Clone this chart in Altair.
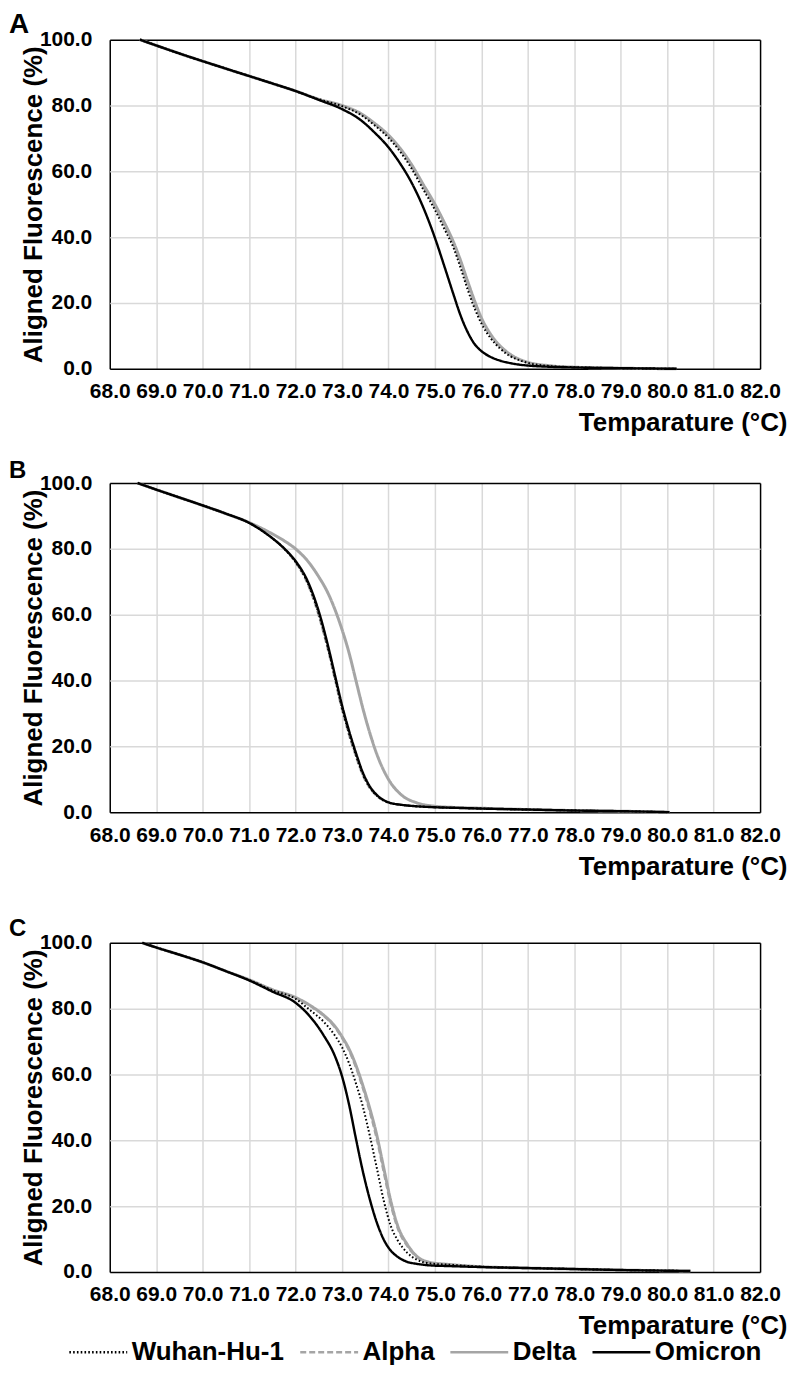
import altair as alt
import pandas as pd

FONT = "Liberation Sans"

VARIANTS = ["Wuhan-Hu-1", "Alpha", "Delta", "Omicron"]
DRAW_ORDER = ["Delta", "Alpha", "Wuhan-Hu-1", "Omicron"]
LINE_COLORS = ["#000000", "#a5a5a5", "#a5a5a5", "#000000"]
LINE_DASHES = [[1.6, 2.2], [6, 3], [1, 0], [1, 0]]
LINE_WIDTHS = {"Wuhan-Hu-1": 2.0, "Alpha": 2.0, "Delta": 3.0, "Omicron": 2.4}

X_TICKS = list(range(68, 83))
Y_TICKS = [0, 20, 40, 60, 80, 100]

# ---------------- Panel A ----------------
temp_a = [68.65, 69.5, 70.5, 71.5, 72.0, 72.5, 73.0, 73.4, 73.7, 74.0, 74.25, 74.5,
          74.75, 75.0, 75.2, 75.4, 75.55, 75.7, 75.85, 76.0, 76.2, 76.4, 76.6, 76.8,
          77.0, 77.5, 78.0, 79.0, 80.2]
wuhan_a = [100, 95.8, 91.2, 86.7, 84.4, 81.9, 79.8, 77.2, 74.0, 70.2, 66.0, 60.8,
           54.5, 48.3, 42.6, 36.8, 30.8, 24.3, 18.5, 13.8, 9.3, 6.2, 4.0, 2.7,
           1.8, 0.8, 0.5, 0.2, 0.0]
alpha_a = [100, 95.8, 91.2, 86.7, 84.4, 81.9, 79.9, 77.4, 74.3, 70.6, 66.5, 61.4,
           55.2, 49.1, 43.5, 37.6, 31.8, 25.4, 19.5, 14.6, 9.9, 6.6, 4.3, 2.8,
           1.9, 0.8, 0.5, 0.2, 0.0]
delta_a = [100, 95.8, 91.2, 86.7, 84.4, 81.9, 80.0, 77.6, 74.6, 71.0, 67.0, 62.0,
           56.0, 50.0, 44.5, 38.5, 33.0, 26.8, 20.8, 15.5, 10.5, 7.0, 4.6, 3.0,
           2.0, 0.9, 0.5, 0.2, 0.0]
omicron_a = [100, 95.8, 91.2, 86.7, 84.4, 81.7, 78.9, 75.6, 71.8, 67.3, 62.4, 56.5,
             49.0, 39.8, 31.3, 22.6, 16.3, 11.3, 7.6, 5.4, 3.6, 2.5, 1.8, 1.3,
             1.0, 0.6, 0.4, 0.2, 0.0]

# ---------------- Panel B ----------------
temp_b = [68.6, 69.0, 69.5, 70.0, 70.5, 71.0, 71.4, 71.75, 72.0, 72.25, 72.5, 72.7,
          72.85, 73.0, 73.15, 73.3, 73.45, 73.6, 73.8, 74.0, 74.3, 74.6, 75.0, 75.5,
          76.0, 77.0, 78.0, 79.0, 80.05]
wuhan_b = [100, 98.0, 95.6, 93.2, 90.7, 87.9, 84.3, 80.1, 76.0, 70.0, 60.2, 49.7,
           40.7, 31.7, 24.0, 17.3, 11.4, 7.5, 4.4, 2.9, 2.2, 1.8, 1.5, 1.3,
           1.1, 0.8, 0.5, 0.3, 0.0]
alpha_b = [100, 98.0, 95.6, 93.2, 90.7, 87.9, 84.3, 80.1, 75.8, 69.6, 59.5, 49.0,
           40.0, 31.0, 23.4, 16.8, 11.0, 7.2, 4.3, 2.9, 2.2, 1.8, 1.5, 1.3,
           1.1, 0.8, 0.5, 0.3, 0.0]
delta_b = [100, 98.0, 95.6, 93.2, 90.7, 88.0, 85.3, 82.5, 80.0, 76.5, 71.5, 66.5,
           61.5, 55.5, 48.5, 40.0, 31.5, 24.0, 15.8, 10.0, 5.0, 2.9, 1.8, 1.4,
           1.2, 0.8, 0.5, 0.3, 0.0]
omicron_b = [100, 98.0, 95.6, 93.2, 90.7, 87.9, 84.3, 80.2, 76.3, 70.5, 61.0, 50.5,
             41.5, 32.5, 24.8, 18.0, 12.0, 7.8, 4.6, 3.0, 2.2, 1.8, 1.5, 1.3,
             1.1, 0.8, 0.5, 0.3, 0.0]

# ---------------- Panel C ----------------
temp_c = [68.7, 69.0, 69.5, 70.0, 70.5, 71.0, 71.5, 72.0, 72.3, 72.6, 72.85, 73.0,
          73.15, 73.3, 73.45, 73.6, 73.75, 73.9, 74.05, 74.2, 74.4, 74.6, 74.9, 75.3,
          76.0, 77.0, 78.0, 79.0, 80.5]
wuhan_c = [100, 98.6, 96.4, 94.1, 91.4, 88.7, 85.6, 83.0, 79.7, 76.1, 71.8, 68.3,
           63.5, 57.3, 50.2, 41.3, 31.6, 21.6, 14.0, 9.6, 5.9, 3.8, 2.6, 2.2,
           1.6, 1.2, 0.9, 0.6, 0.3]
alpha_c = [100, 98.6, 96.4, 94.1, 91.4, 88.8, 85.8, 83.3, 80.9, 77.8, 74.2, 71.0,
           67.2, 62.0, 55.6, 48.4, 40.1, 30.0, 20.3, 13.1, 7.9, 4.6, 2.8, 2.3,
           1.6, 1.2, 0.9, 0.6, 0.3]
delta_c = [100, 98.6, 96.4, 94.1, 91.4, 88.8, 85.8, 83.4, 81.1, 78.1, 74.6, 71.5,
           67.8, 62.8, 56.6, 49.6, 41.5, 31.5, 21.6, 14.0, 8.5, 4.9, 2.9, 2.3,
           1.6, 1.2, 0.9, 0.6, 0.3]
omicron_c = [100, 98.6, 96.4, 94.1, 91.4, 88.6, 85.2, 81.8, 77.8, 72.0, 65.5, 59.5,
             51.0, 40.5, 30.5, 22.0, 15.0, 9.8, 6.5, 4.6, 3.1, 2.5, 2.0, 1.8,
             1.5, 1.2, 0.9, 0.6, 0.3]


def panel_frame(temps, series):
    rows = []
    for name in DRAW_ORDER:
        for t, v in zip(temps, series[name]):
            rows.append({"temp": t, "value": v, "variant": name})
    return pd.DataFrame(rows)


LEGEND = alt.Legend(
    orient="none", legendX=-24.5, legendY=1303, direction="horizontal", title=None,
    labelFont=FONT, labelFontSize=26, labelFontWeight="bold", labelColor="black",
    symbolType="M-3,0H3", symbolSize=374, symbolStrokeWidth=2.5, labelOffset=20.5,
    columnPadding=9.5, labelLimit=400,
)

EDGE_X = "datum.value == 68 || datum.value == 82"
EDGE_Y = "datum.value == 0 || datum.value == 100"


def make_panel(letter, df, letter_size, letter_offset):
    x_axis = alt.Axis(
        values=X_TICKS, format=".1f", title="Temparature (°C)",
        gridColor=alt.condition(EDGE_X, alt.value("#000000"), alt.value("#d9d9d9")),
    )
    y_axis = alt.Axis(
        values=Y_TICKS, format=".1f", title="Aligned Fluorescence (%)",
        gridColor=alt.condition(EDGE_Y, alt.value("#000000"), alt.value("#d9d9d9")),
    )
    enc = dict(
        x=alt.X("temp:Q", scale=alt.Scale(domain=[68, 82], nice=False, zero=False), axis=x_axis),
        y=alt.Y("value:Q", scale=alt.Scale(domain=[0, 100], nice=False, zero=False), axis=y_axis),
        color=alt.Color("variant:N", scale=alt.Scale(domain=VARIANTS, range=LINE_COLORS), legend=LEGEND),
        strokeDash=alt.StrokeDash("variant:N", scale=alt.Scale(domain=VARIANTS, range=LINE_DASHES), legend=LEGEND),
    )
    layers = [
        alt.Chart(df)
        .transform_filter(alt.datum.variant == v)
        .mark_line(interpolate="monotone", strokeWidth=LINE_WIDTHS[v])
        .encode(**enc)
        for v in DRAW_ORDER
    ]
    return alt.layer(*layers).properties(
        width=652, height=330,
        title=alt.TitleParams(
            letter, anchor="start", frame="bounds", dx=-12, font=FONT,
            fontSize=letter_size, fontWeight="bold", color="black", offset=letter_offset,
        ),
    )


panel_a = make_panel("A", panel_frame(temp_a, {
    "Wuhan-Hu-1": wuhan_a, "Alpha": alpha_a, "Delta": delta_a, "Omicron": omicron_a}), 28, -10)
panel_b = make_panel("B", panel_frame(temp_b, {
    "Wuhan-Hu-1": wuhan_b, "Alpha": alpha_b, "Delta": delta_b, "Omicron": omicron_b}), 24, -11)
panel_c = make_panel("C", panel_frame(temp_c, {
    "Wuhan-Hu-1": wuhan_c, "Alpha": alpha_c, "Delta": delta_c, "Omicron": omicron_c}), 24, -9.5)

chart = (
    alt.vconcat(panel_a, alt.vconcat(panel_b, panel_c, spacing=37), spacing=21.5)
    .properties(padding=0)
    .configure_view(stroke="transparent")
    .configure_axis(
        labelFont=FONT, titleFont=FONT, labelFontWeight="bold", titleFontWeight="bold",
        labelColor="black", titleColor="black", labelFontSize=21,
        grid=True, gridWidth=1.5, domain=False, ticks=False, tickSize=0,
        labelOverlap=False, labelFlush=False,
    )
    .configure_axisX(
        labelPadding=12, titleFontSize=26, titleX=679, titleY=54,
        titleAlign="right", titleBaseline="middle",
    )
    .configure_axisY(
        labelPadding=18, titleFontSize=26, titleX=-76, titleY=165, titleAngle=270,
        titleAlign="center", titleBaseline="middle",
    )
)

chart.save("out.html", embed_options={"renderer": "svg", "actions": False})
